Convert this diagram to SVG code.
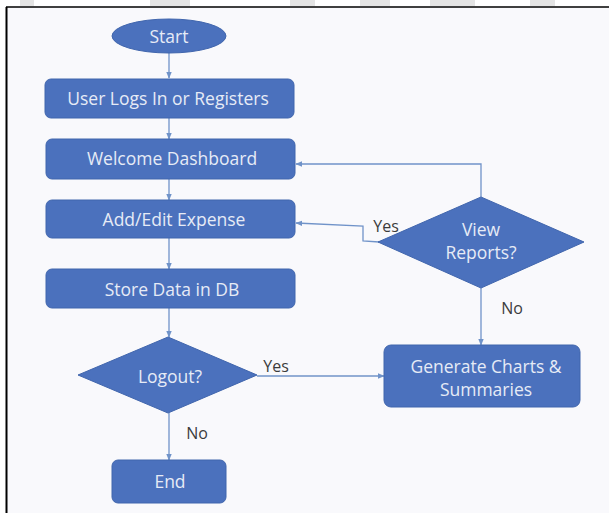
<svg xmlns="http://www.w3.org/2000/svg" width="609" height="513" viewBox="0 0 609 513">
<style>
.node{fill:#4b71bd;stroke:#4166ad;stroke-width:1}
.t{font-family:"Open Sans","Noto Sans",sans-serif;font-size:17.5px;fill:#e6ebf6;text-anchor:middle;dominant-baseline:central}
.lbl{font-family:"Open Sans","Noto Sans",sans-serif;font-size:16px;fill:#3c3c3c;text-anchor:middle;dominant-baseline:central}
.c{fill:none;stroke:#7093c9;stroke-width:1.3}
</style>
<defs>
<marker id="ah" viewBox="0 0 10 10" refX="9" refY="5" markerWidth="7" markerHeight="7" markerUnits="userSpaceOnUse" orient="auto">
<path d="M0,1 L10,5 L0,9 z" fill="#7093c9"/>
</marker>
</defs>
<rect x="0" y="0" width="609" height="513" fill="#ffffff"/>
<rect x="6" y="7" width="603" height="506" fill="#f9f9fc"/>
<g fill="#e4e4e4">
<rect x="20" y="0" width="14" height="6"/>
<rect x="150" y="0" width="40" height="6"/>
<rect x="290" y="0" width="25" height="6"/>
<rect x="360" y="0" width="30" height="6"/>
<rect x="430" y="0" width="45" height="6"/>
<rect x="530" y="0" width="25" height="6"/>
</g>
<line x1="6" y1="7" x2="609" y2="7" stroke="#000" stroke-width="1.5"/>
<line x1="6.5" y1="7" x2="6.5" y2="513" stroke="#000" stroke-width="2"/>

<g id="connectors">
<path class="c" d="M169,53 L169,78" marker-end="url(#ah)"/>
<path class="c" d="M169,118 L169,139" marker-end="url(#ah)"/>
<path class="c" d="M169,179 L169,200" marker-end="url(#ah)"/>
<path class="c" d="M169,238 L169,269" marker-end="url(#ah)"/>
<path class="c" d="M169,308 L169,337" marker-end="url(#ah)"/>
<path class="c" d="M169,413 L169,460" marker-end="url(#ah)"/>
<path class="c" d="M257,376 L384,376" marker-end="url(#ah)"/>
<path class="c" d="M481,197 L481,164 L296,164" marker-end="url(#ah)"/>
<path class="c" d="M379,242 L363,241 L363,226 L296,223" marker-end="url(#ah)"/>
<path class="c" d="M481,288 L481,345" marker-end="url(#ah)"/>
</g>

<g id="start">
<ellipse class="node" cx="169" cy="36" rx="57" ry="17"/>
<text class="t" x="169" y="36">Start</text>
</g>
<g id="login">
<rect class="node" x="45" y="79" width="249" height="39" rx="6"/>
<text class="t" x="168" y="98">User Logs In or Registers</text>
</g>
<g id="dashboard">
<rect class="node" x="46" y="139" width="249" height="40" rx="6"/>
<text class="t" x="172" y="158">Welcome Dashboard</text>
</g>
<g id="addedit">
<rect class="node" x="46" y="200" width="249" height="38" rx="6"/>
<text class="t" x="174" y="219">Add/Edit Expense</text>
</g>
<g id="store">
<rect class="node" x="46" y="269" width="249" height="39" rx="6"/>
<text class="t" x="172" y="289">Store Data in DB</text>
</g>
<g id="logout">
<polygon class="node" points="168,337 257,375 168,413 78,375"/>
<text class="t" x="170" y="376">Logout?</text>
</g>
<g id="end">
<rect class="node" x="112" y="460" width="114" height="43" rx="6"/>
<text class="t" x="170" y="481">End</text>
</g>
<g id="viewreports">
<polygon class="node" points="481,197 584,242 481,288 378,242"/>
<text class="t" x="481" y="229">View</text>
<text class="t" x="481" y="252">Reports?</text>
</g>
<g id="generate">
<rect class="node" x="384" y="345" width="196" height="62" rx="7"/>
<text class="t" x="486" y="366">Generate Charts &amp;</text>
<text class="t" x="486" y="389">Summaries</text>
</g>
<g id="labels">
<text class="lbl" x="276" y="366">Yes</text>
<text class="lbl" x="197" y="433">No</text>
<text class="lbl" x="386" y="226">Yes</text>
<text class="lbl" x="512" y="308">No</text>
</g>
</svg>
